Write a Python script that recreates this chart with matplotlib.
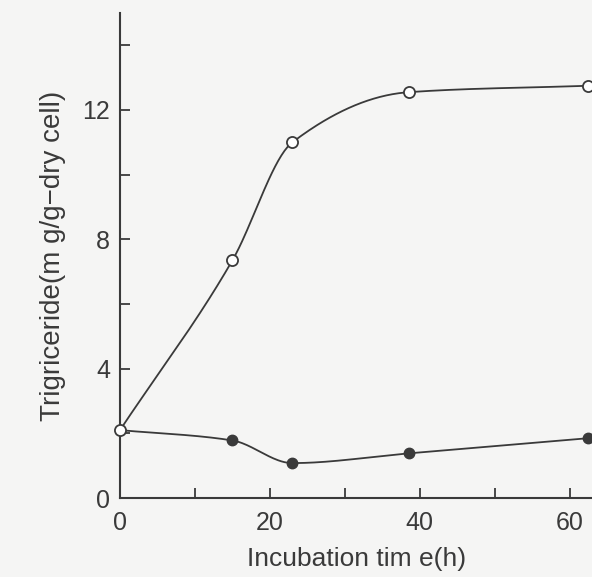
import matplotlib.pyplot as plt
import numpy as np

# incubation time (h) and trigriceride content (mg/g-dry cell)
time_open = [0, 15, 23, 38.5, 62.5]
tg_open = [2.1, 7.35, 11.0, 12.55, 12.75]
time_filled = [15, 23, 38.5, 62.5]
tg_filled = [1.78, 1.08, 1.38, 1.85]

x_ticks = [0, 20, 40, 60]
y_ticks = [0, 4, 8, 12]


def pchip(x, y, n=300):
    # monotone cubic (Fritsch-Carlson) to get the smooth hand-drawn curves
    x = np.asarray(x, float)
    y = np.asarray(y, float)
    h = np.diff(x)
    d = np.diff(y) / h
    m = np.zeros_like(y)
    for k in range(1, len(x) - 1):
        if d[k - 1] * d[k] > 0:
            w1 = 2 * h[k] + h[k - 1]
            w2 = h[k] + 2 * h[k - 1]
            m[k] = (w1 + w2) / (w1 / d[k - 1] + w2 / d[k])
    m[0] = d[0]
    m[-1] = d[-1]
    xs = np.linspace(x[0], x[-1], n)
    idx = np.clip(np.searchsorted(x, xs) - 1, 0, len(h) - 1)
    t = (xs - x[idx]) / h[idx]
    h00 = 2 * t**3 - 3 * t**2 + 1
    h10 = t**3 - 2 * t**2 + t
    h01 = -2 * t**3 + 3 * t**2
    h11 = t**3 - t**2
    ys = h00 * y[idx] + h10 * h[idx] * m[idx] + h01 * y[idx + 1] + h11 * h[idx] * m[idx + 1]
    return xs, ys


plt.rcParams['font.family'] = ['Liberation Sans', 'DejaVu Sans']
ink = '#3a3a3a'
bg = '#f5f5f4'

fig = plt.figure(figsize=(5.92, 5.77), dpi=100, facecolor=bg)
ax = fig.add_axes([0.2027, 0.1369, 0.80, 0.8406])
ax.set_facecolor(bg)

# lower curve starts from the shared point at t=0
xf, yf = pchip([time_open[0]] + time_filled, [tg_open[0]] + tg_filled)
ax.plot(xf, yf, color=ink, lw=1.3, zorder=2)
ax.plot(time_filled, tg_filled, 'o', color=ink, ms=7.5, zorder=3)

xo, yo = pchip(time_open, tg_open)
ax.plot(xo, yo, color=ink, lw=1.3, zorder=2)
ax.plot(time_open, tg_open, 'o', mfc='white', mec=ink, mew=1.3, ms=8, zorder=4, clip_on=False)

ax.set_xlim(0, 63.2)
ax.set_ylim(0, 15)
for s in ['top', 'right']:
    ax.spines[s].set_visible(False)
for s in ['left', 'bottom']:
    ax.spines[s].set_linewidth(1.5)
    ax.spines[s].set_color(ink)

ax.set_xticks(x_ticks)
ax.set_yticks(y_ticks)
ax.set_xticks([10, 30, 50], minor=True)
ax.set_yticks([2, 6, 10, 14], minor=True)
ax.tick_params(which='both', direction='in', length=7, width=1.3, color=ink,
               labelsize=18, labelcolor=ink)
ax.tick_params(axis='x', pad=9)
ax.tick_params(axis='y', pad=7)

ax.set_xlabel('Incubation tim e(h)', fontsize=19, color=ink, labelpad=9)
ax.set_ylabel('Trigriceride(m g/g\u2212dry cell)', fontsize=20, color=ink, labelpad=12)

plt.savefig('out.png', dpi=100, facecolor=bg)
